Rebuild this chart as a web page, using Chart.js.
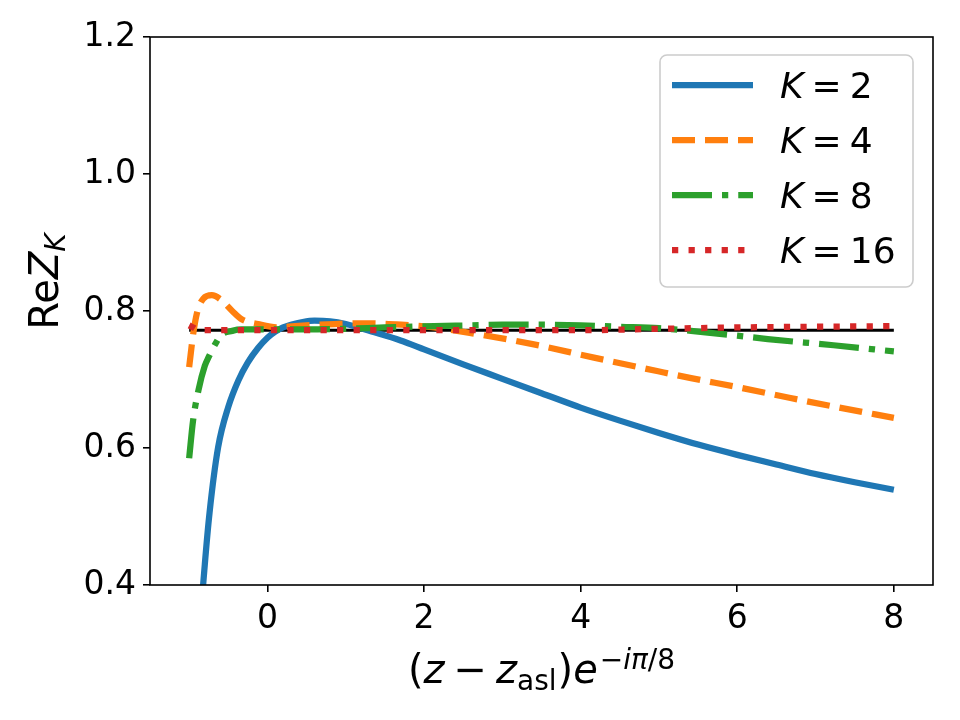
<!DOCTYPE html>
<html><head><meta charset="utf-8">
<script src="https://cdn.jsdelivr.net/npm/chart.js@4/dist/chart.umd.min.js"></script>
<style>html,body{margin:0;padding:0;background:#fff}canvas{display:block}</style>
</head><body>
<canvas id="c" width="960" height="720"></canvas>
<script>
// ---- data ----
const xTicks = [0, 2, 4, 6, 8];
const yTicks = [0.4, 0.6, 0.8, 1.0, 1.2];
const seriesLabels = ['2', '4', '8', '16'];

const xK2 = [-0.88, -0.84, -0.8, -0.74, -0.63, -0.5, -0.37, -0.25, -0.12, 0, 0.1, 0.2, 0.3, 0.45, 0.6, 0.8, 1.0, 1.33, 1.7, 2.0, 2.5, 3.0, 3.5, 4.0, 4.5, 5.0, 5.5, 6.0, 6.5, 7.0, 7.5, 8.0];
const yK2 = [0.28, 0.37, 0.43, 0.505, 0.601, 0.66, 0.699, 0.725, 0.746, 0.761, 0.770, 0.776, 0.780, 0.784, 0.786, 0.785, 0.781, 0.770, 0.757, 0.744, 0.722, 0.701, 0.680, 0.659, 0.640, 0.622, 0.605, 0.590, 0.576, 0.562, 0.550, 0.539];

const xK4 = [-1.0, -0.95, -0.9, -0.82, -0.71, -0.6, -0.45, -0.33, -0.12, 0.13, 0.35, 0.85, 1.29, 1.71, 2.13, 2.64, 3.37, 4.17, 4.99, 5.41, 6.0, 6.68, 7.3, 8.0];
const yK4 = [0.718, 0.765, 0.797, 0.818, 0.823, 0.817, 0.800, 0.788, 0.781, 0.776, 0.778, 0.781, 0.782, 0.780, 0.776, 0.767, 0.752, 0.732, 0.712, 0.702, 0.689, 0.673, 0.659, 0.644];

const xK8 = [-1.0, -0.95, -0.88, -0.8, -0.75, -0.65, -0.59, -0.45, -0.33, 0, 0.5, 1.0, 1.5, 2.13, 2.6, 3.0, 3.5, 4.0, 4.5, 5.0, 5.41, 6.0, 6.39, 7.23, 8.0];
const yK8 = [0.585, 0.64, 0.685, 0.72, 0.733, 0.755, 0.765, 0.771, 0.773, 0.773, 0.773, 0.774, 0.776, 0.778, 0.779, 0.780, 0.780, 0.779, 0.777, 0.775, 0.771, 0.764, 0.759, 0.750, 0.741];

const xK16 = [-1.0, -0.95, -0.9, -0.8, -0.5, 0, 1, 2, 3, 4, 5, 6, 7, 8];
const yK16 = [0.779, 0.776, 0.773, 0.772, 0.772, 0.772, 0.772, 0.772, 0.772, 0.772, 0.774, 0.776, 0.777, 0.778];

const xRef = [-1, 8];
const yRef = [0.772, 0.772];

// ---- styling ----
const FONT = 'DejaVu Sans';
const colors = ['#1f77b4', '#ff7f0e', '#2ca02c', '#d62728'];
const LW = 6.25;
const dashes = [[], [23, 10], [40, 10, 6.25, 10], [6.25, 10.3]];

const pts = (xs, ys) => xs.map((x, i) => ({x: x, y: ys[i]}));
const seriesX = [xK2, xK4, xK8, xK16];
const seriesY = [yK2, yK4, yK8, yK16];

const datasets = seriesX.map((xs, i) => ({
  label: 'K = ' + seriesLabels[i],
  data: pts(xs, seriesY[i]),
  borderColor: colors[i],
  backgroundColor: colors[i],
  borderWidth: LW,
  borderDash: dashes[i],
  borderCapStyle: 'butt',
  pointRadius: 0,
  cubicInterpolationMode: 'monotone',
  fill: false,
  clip: 0,
  order: 4 - i
}));
datasets.push({
  label: 'ref',
  data: pts(xRef, yRef),
  borderColor: '#000',
  borderWidth: 3,
  pointRadius: 0,
  fill: false,
  clip: 0,
  order: 10
});

function drawRuns(ctx, runs, x, y) {
  let cx = x;
  for (const r of runs) {
    ctx.font = (r.it ? 'italic ' : '') + r.s + 'px "' + FONT + '"';
    cx += (r.pre || 0);
    ctx.fillText(r.t, cx, y + (r.dy || 0));
    cx += ctx.measureText(r.t).width + (r.post || 0);
  }
  return cx - x;
}
function runsWidth(ctx, runs) {
  let w = 0;
  for (const r of runs) {
    ctx.font = (r.it ? 'italic ' : '') + r.s + 'px "' + FONT + '"';
    w += (r.pre || 0) + ctx.measureText(r.t).width + (r.post || 0);
  }
  return w;
}

const xLabelRuns = [
  {t: '(', s: 40}, {t: 'z', s: 40, it: true},
  {t: '\u2212', s: 40, pre: 9, post: 9},
  {t: 'z', s: 40, it: true}, {t: 'asl', s: 28, dy: 7},
  {t: ')', s: 40, pre: 1}, {t: 'e', s: 40, it: true},
  {t: '\u2212', s: 28, dy: -14, pre: 2}, {t: 'i\u03c0', s: 28, it: true, dy: -14}, {t: '/8', s: 28, dy: -14}
];
const yLabelRuns = [
  {t: 'Re', s: 40}, {t: 'Z', s: 40, it: true}, {t: 'K', s: 28, it: true, dy: 7}
];

const decor = {
  id: 'decor',
  beforeDraw(chart) {
    const ctx = chart.ctx;
    ctx.save();
    ctx.fillStyle = '#fff';
    ctx.fillRect(0, 0, chart.width, chart.height);
    ctx.restore();
  },
  afterDatasetsDraw(chart) {
    const ctx = chart.ctx;
    const a = chart.chartArea;
    ctx.save();
    // spines
    ctx.strokeStyle = '#000';
    ctx.lineWidth = 1.6;
    ctx.strokeRect(a.left, a.top, a.right - a.left, a.bottom - a.top);

    // legend
    const bw = 253, bh = 232;
    const bx = a.right - 20 - bw, by = a.top + 18;
    ctx.beginPath();
    ctx.roundRect(bx, by, bw, bh, 7);
    ctx.fillStyle = 'rgba(255,255,255,0.8)';
    ctx.fill();
    ctx.strokeStyle = '#cccccc';
    ctx.lineWidth = 1.6;
    ctx.stroke();
    ctx.textBaseline = 'alphabetic';
    ctx.textAlign = 'left';
    for (let i = 0; i < 4; i++) {
      const ry = by + 30 + i * 55;
      ctx.beginPath();
      ctx.setLineDash(dashes[i]);
      ctx.lineCap = 'butt';
      ctx.strokeStyle = colors[i];
      ctx.lineWidth = LW;
      ctx.moveTo(bx + 12, ry);
      ctx.lineTo(bx + 93, ry);
      ctx.stroke();
      ctx.setLineDash([]);
      ctx.fillStyle = '#000';
      drawRuns(ctx, [
        {t: 'K', s: 36, it: true},
        {t: '=', s: 36, pre: 8, post: 8},
        {t: seriesLabels[i], s: 36}
      ], bx + 120, ry + 13);
    }

    // axis titles
    ctx.fillStyle = '#000';
    const wx = runsWidth(ctx, xLabelRuns);
    drawRuns(ctx, xLabelRuns, (a.left + a.right) / 2 - wx / 2, a.bottom + 98);

    const wy = runsWidth(ctx, yLabelRuns);
    ctx.translate(a.left - 92, 281.5 + wy / 2);
    ctx.rotate(-Math.PI / 2);
    drawRuns(ctx, yLabelRuns, 0, 0);
    ctx.restore();
  }
};

const tickFont = {family: FONT, size: 33};

new Chart(document.getElementById('c'), {
  type: 'line',
  data: {datasets: datasets},
  options: {
    responsive: false,
    devicePixelRatio: 1,
    animation: false,
    layout: {padding: {left: 0, right: 27, top: 37, bottom: 0}},
    plugins: {legend: {display: false}, tooltip: {enabled: false}},
    scales: {
      x: {
        type: 'linear', min: -1.5, max: 8.5,
        afterBuildTicks: s => { s.ticks = xTicks.map(v => ({value: v})); },
        afterFit: s => { s.height = 135; },
        grid: {drawOnChartArea: false, drawTicks: true, tickLength: 7, color: '#000', lineWidth: 1.6},
        border: {display: false},
        ticks: {font: tickFont, color: '#000', padding: 8, maxRotation: 0, autoSkip: false, callback: v => String(v)}
      },
      y: {
        type: 'linear', min: 0.4, max: 1.2,
        afterBuildTicks: s => { s.ticks = yTicks.map(v => ({value: v})); },
        afterFit: s => { s.width = 150; },
        grid: {drawOnChartArea: false, drawTicks: true, tickLength: 7, color: '#000', lineWidth: 1.6},
        border: {display: false},
        ticks: {font: tickFont, color: '#000', padding: 7, autoSkip: false, callback: v => v.toFixed(1)}
      }
    }
  },
  plugins: [decor]
});
</script>
</body></html>
